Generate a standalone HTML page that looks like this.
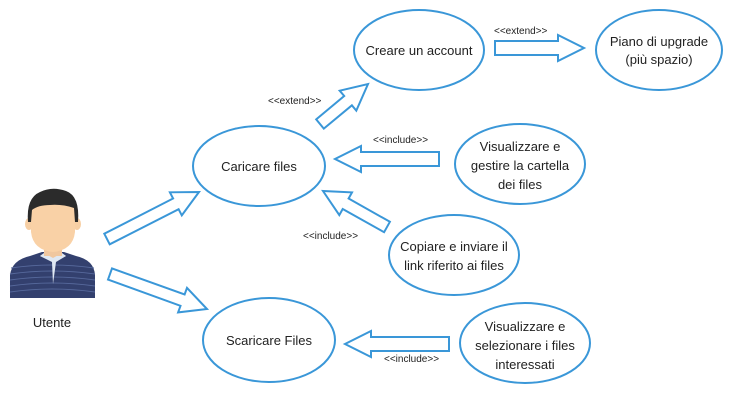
<!DOCTYPE html>
<html><head><meta charset="utf-8"><style>
html,body{margin:0;padding:0;background:#fff;}
svg{display:block;font-family:"Liberation Sans",sans-serif;}
</style></head><body>
<svg id="s" width="753" height="407" viewBox="0 0 753 407" xmlns="http://www.w3.org/2000/svg">
<g fill="#fff" stroke="#3a97d8" stroke-width="2">
<ellipse cx="419" cy="50" rx="65" ry="40"/>
<ellipse cx="659" cy="50" rx="63" ry="40"/>
<ellipse cx="259" cy="166" rx="66" ry="40"/>
<ellipse cx="520" cy="164" rx="65" ry="40"/>
<ellipse cx="454" cy="255" rx="65" ry="40"/>
<ellipse cx="269" cy="340" rx="66" ry="42"/>
<ellipse cx="525" cy="343" rx="65" ry="40"/>
</g>
<g id="arrows" fill="#fff" stroke="#3a97d8" stroke-width="2" stroke-linejoin="miter"></g>
<g font-size="13" fill="#222" text-anchor="middle">
<text x="419" y="55">Creare un account</text>
<text x="659" y="46">Piano di upgrade</text>
<text x="659" y="64">(più spazio)</text>
<text x="259" y="171">Caricare files</text>
<text x="520" y="151">Visualizzare e</text>
<text x="520" y="170">gestire la cartella</text>
<text x="520" y="189">dei files</text>
<text x="454" y="251">Copiare e inviare il</text>
<text x="454" y="270">link riferito ai files</text>
<text x="269" y="345">Scaricare Files</text>
<text x="525" y="331">Visualizzare e</text>
<text x="525" y="350">selezionare i files</text>
<text x="525" y="369">interessati</text>
<text x="52" y="327">Utente</text>
</g>
<g font-size="10" fill="#222">
<text x="494" y="34">&lt;&lt;extend&gt;&gt;</text>
<text x="268" y="104">&lt;&lt;extend&gt;&gt;</text>
<text x="373" y="143">&lt;&lt;include&gt;&gt;</text>
<text x="303" y="239">&lt;&lt;include&gt;&gt;</text>
<text x="384" y="362">&lt;&lt;include&gt;&gt;</text>
</g>
<!-- actor -->
<g>
<path d="M10,298 L10,275 Q12,260 30,256 L42,252 L64,252 L76,256 Q94,260 95,275 L95,298 Z" fill="#33406e"/>
<g stroke="#55679a" stroke-width="1" fill="none">
<path d="M11,268 Q52,262 94,268"/><path d="M10,274 Q52,268 95,274"/><path d="M10,280 Q52,274 95,280"/>
<path d="M10,286 Q52,280 95,286"/><path d="M10,292 Q52,286 95,292"/>
</g>
<path d="M40,256 L53,262 L66,256 L60,252 L46,252 Z" fill="#f0c79f"/>
<path d="M40,256 L52,262 L53,284 L56,262 L66,256 L62,253 L53,258 L44,253 Z" fill="#dfe8f3"/>
<rect x="44" y="240" width="18" height="16" fill="#f0c79f"/>
<ellipse cx="29" cy="224" rx="4" ry="6" fill="#f7cfa4"/>
<ellipse cx="77" cy="224" rx="4" ry="6" fill="#f7cfa4"/>
<path d="M31,214 Q31,193 53,193 Q75,193 75,214 L75,232 Q73,250 53,252 Q33,250 31,232 Z" fill="#f9d1a6"/>
<path d="M28,222 Q26,198 40,192 Q52,186 66,191 Q80,196 78,222 L75,222 L74,208 Q62,204 50,205 Q38,205 32,210 L31,222 Z" fill="#2b2b2b"/>
</g>
</svg>
<script>
function arrow(x1,y1,x2,y2,sw,hw,hl){
 var dx=x2-x1,dy=y2-y1,L=Math.hypot(dx,dy),ux=dx/L,uy=dy/L,nx=-uy,ny=ux;
 var bx=x2-ux*hl,by=y2-uy*hl;
 var p=[[x1+nx*sw,y1+ny*sw],[bx+nx*sw,by+ny*sw],[bx+nx*hw,by+ny*hw],[x2,y2],[bx-nx*hw,by-ny*hw],[bx-nx*sw,by-ny*sw],[x1-nx*sw,y1-ny*sw]];
 var e=document.createElementNS("http://www.w3.org/2000/svg","polygon");
 e.setAttribute("points",p.map(function(q){return q[0].toFixed(1)+","+q[1].toFixed(1)}).join(" "));
 document.getElementById("arrows").appendChild(e);
}
arrow(107,239,199,192,6,13,26);
arrow(110,274,207,309,6,13,26);
arrow(320,124,368,84,6,13,26);
arrow(495,48,584,48,7,13,26);
arrow(439,159,335,159,7,13,26);
arrow(387,227,323,191,6,13,26);
arrow(449,344,345,344,7,13,26);
</script>
</body></html>
